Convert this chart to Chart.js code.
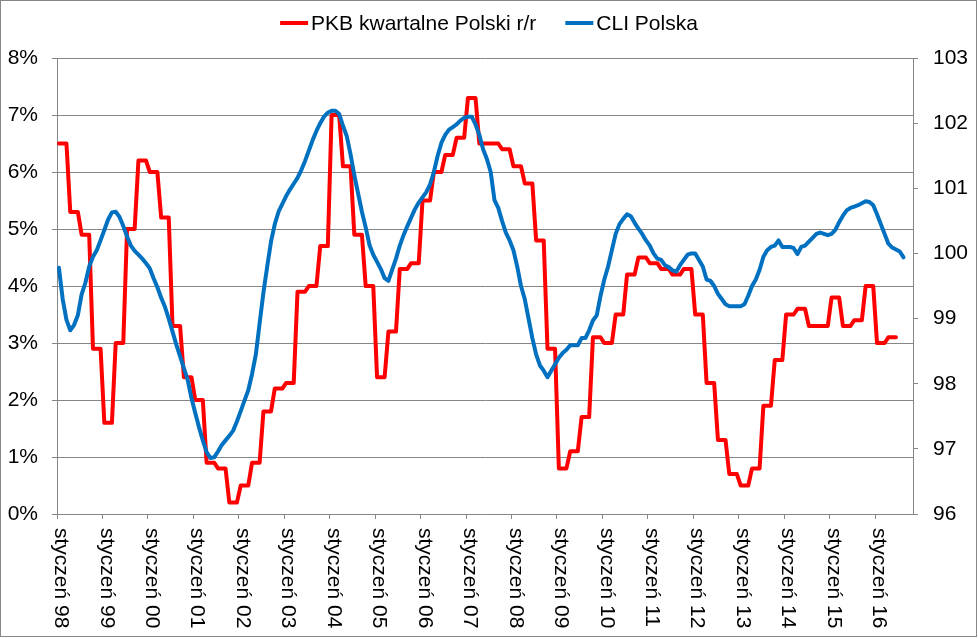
<!DOCTYPE html>
<html>
<head>
<meta charset="utf-8">
<script src="https://cdn.jsdelivr.net/npm/chart.js@4.4.1/dist/chart.umd.min.js"></script>
<style>
  html, body { margin: 0; padding: 0; background: #fff; }
  #wrap { width: 978px; height: 639px; }
</style>
</head>
<body>
<div id="wrap"><canvas id="chart" width="978" height="639"></canvas></div>
<script>
// dane
const monthNames = ['styczeń', 'luty', 'marzec', 'kwiecień', 'maj', 'czerwiec',
    'lipiec', 'sierpień', 'wrzesień', 'październik', 'listopad', 'grudzień'];
const years = ['98', '99', '00', '01', '02', '03', '04', '05', '06', '07',
    '08', '09', '10', '11', '12', '13', '14', '15', '16'];
const monthCount = 226; // styczeń 98 .. październik 16

// PKB r/r (%), kwartalnie 1998 Q1 .. 2016 Q2
const gdpQuarterly = [
    6.5, 5.3, 4.9, 2.9,
    1.6, 3.0, 5.0, 6.2,
    6.0, 5.2, 3.3, 2.4,
    2.0, 0.9, 0.8, 0.2,
    0.5, 0.9, 1.8, 2.2,
    2.3, 3.9, 4.0, 4.7,
    7.0, 6.1, 4.9, 4.0,
    2.4, 3.2, 4.3, 4.4,
    5.5, 6.0, 6.3, 6.6,
    7.3, 6.5, 6.5, 6.4,
    6.1, 5.8, 4.8, 2.9,
    0.8, 1.1, 1.7, 3.1,
    3.0, 3.5, 4.2, 4.5,
    4.4, 4.3, 4.2, 4.3,
    3.5, 2.3, 1.3, 0.7,
    0.5, 0.8, 1.9, 2.7,
    3.5, 3.6, 3.3, 3.3,
    3.8, 3.3, 3.4, 4.0,
    3.0, 3.1
];

// CLI Polska, miesięcznie 1998-01 .. 2016-08
const cliMonthly = [
    99.78, 99.3, 98.98, 98.82, 98.9, 99.05, 99.37, 99.55, 99.8, 99.95, 100.05, 100.2,
    100.36, 100.52, 100.63, 100.64, 100.56, 100.42, 100.26, 100.12, 100.04, 99.98, 99.92, 99.85,
    99.77, 99.62, 99.48, 99.32, 99.18, 99.0, 98.8, 98.6, 98.42, 98.24, 98.06, 97.78,
    97.55, 97.33, 97.13, 96.95, 96.86, 96.87, 96.96, 97.06, 97.13, 97.2, 97.28, 97.42,
    97.58, 97.74, 97.9, 98.15, 98.45, 98.93, 99.4, 99.8, 100.18, 100.45, 100.64, 100.76,
    100.88, 100.98, 101.07, 101.16, 101.28, 101.42, 101.58, 101.74, 101.88, 102.0, 102.1, 102.16,
    102.19, 102.19, 102.14, 101.96, 101.8, 101.52, 101.2, 100.92, 100.64, 100.4, 100.13, 99.98,
    99.87, 99.76, 99.62, 99.58, 99.75, 99.92, 100.12, 100.28, 100.42, 100.55, 100.68, 100.78,
    100.86, 100.94, 101.06, 101.25, 101.5, 101.7, 101.82, 101.9, 101.94, 101.98, 102.04, 102.08,
    102.1, 102.1, 101.98, 101.82, 101.6, 101.45, 101.25, 100.82, 100.7, 100.5, 100.32, 100.2,
    100.05, 99.8, 99.5, 99.3, 99.0, 98.7, 98.45, 98.28, 98.2, 98.1, 98.2, 98.3,
    98.4, 98.47, 98.52, 98.59, 98.59, 98.59, 98.7, 98.7, 98.82, 98.97, 99.05, 99.35,
    99.6, 99.8, 100.05, 100.3, 100.45, 100.53, 100.6, 100.57, 100.47, 100.38, 100.3, 100.2,
    100.12, 100.0, 99.92, 99.9, 99.82, 99.79, 99.74, 99.72, 99.82, 99.9, 99.98, 100.0,
    100.0, 99.9, 99.8, 99.6, 99.58, 99.5, 99.38, 99.3, 99.22, 99.19, 99.19, 99.19,
    99.19, 99.22, 99.35, 99.5, 99.6, 99.75, 99.95, 100.05, 100.1, 100.12, 100.2, 100.1,
    100.1, 100.1, 100.08, 99.99, 100.1, 100.12, 100.18, 100.24, 100.3, 100.32, 100.3, 100.28,
    100.3, 100.36, 100.48, 100.58, 100.66, 100.7, 100.72, 100.74, 100.77, 100.8, 100.79, 100.74,
    100.6, 100.45, 100.3, 100.15, 100.09, 100.06, 100.03, 99.94
];

const leftTicks = [0, 1, 2, 3, 4, 5, 6, 7, 8];      // %
const rightTicks = [96, 97, 98, 99, 100, 101, 102, 103];

// etykiety miesięcy
const labels = [];
years.forEach(y => monthNames.forEach(m => labels.push(m + ' ' + y)));
labels.length = monthCount;

// wartość kwartalna obowiązuje przez trzy miesiące kwartału
const gdpMonthly = gdpQuarterly.flatMap(v => [v, v, v]);
while (gdpMonthly.length < monthCount) gdpMonthly.push(null);
const cliData = cliMonthly.slice();
while (cliData.length < monthCount) cliData.push(null);

const FONT = '"Liberation Sans", Arial, sans-serif';
const GRID = '#868686';
const legendItems = [
    { text: 'PKB kwartalne Polski r/r', color: '#FF0000' },
    { text: 'CLI Polska', color: '#0070C0' }
];

Chart.defaults.font.family = FONT;
Chart.defaults.font.size = 21;
Chart.defaults.color = '#000';

// legenda, podpisy osi X (obrócone w dół) i ramka wykresu
const decorPlugin = {
    id: 'decor',
    afterDraw(chart) {
        const ctx = chart.ctx;
        const xs = chart.scales.x;
        ctx.save();
        ctx.font = '21px ' + FONT;
        ctx.fillStyle = '#000';

        // podpisy osi X
        chart.data.labels.forEach((label, i) => {
            if (i % 12 !== 0) return;
            const x = xs.getPixelForValue(i) + 2;
            ctx.save();
            ctx.translate(x, 528);
            ctx.rotate(Math.PI / 2);
            ctx.textAlign = 'left';
            ctx.textBaseline = 'middle';
            ctx.fillText(label, 0, 0);
            ctx.restore();
        });

        // legenda
        const lineLen = 28, textGap = 3, itemGap = 29, cy = 23;
        const widths = legendItems.map(it => lineLen + textGap + ctx.measureText(it.text).width);
        const total = widths.reduce((a, b) => a + b, 0) + itemGap * (legendItems.length - 1);
        let x = chart.width / 2 - total / 2;
        legendItems.forEach((it, k) => {
            ctx.strokeStyle = it.color;
            ctx.lineWidth = 4;
            ctx.beginPath();
            ctx.moveTo(x, cy);
            ctx.lineTo(x + lineLen, cy);
            ctx.stroke();
            ctx.textAlign = 'left';
            ctx.textBaseline = 'middle';
            ctx.fillText(it.text, x + lineLen + textGap, cy + 1);
            x += widths[k] + itemGap;
        });

        // ramka
        ctx.strokeStyle = GRID;
        ctx.lineWidth = 1;
        ctx.strokeRect(0.5, 0.5, 976, 636);
        ctx.restore();
    }
};

new Chart(document.getElementById('chart'), {
    type: 'line',
    data: {
        labels: labels,
        datasets: [{
            label: legendItems[0].text,
            data: gdpMonthly,
            yAxisID: 'y',
            borderColor: legendItems[0].color,
            borderWidth: 4,
            borderJoinStyle: 'round',
            borderCapStyle: 'round',
            pointRadius: 0,
            tension: 0,
            order: 2
        }, {
            label: legendItems[1].text,
            data: cliData,
            yAxisID: 'y1',
            borderColor: legendItems[1].color,
            borderWidth: 4,
            borderJoinStyle: 'round',
            borderCapStyle: 'round',
            pointRadius: 0,
            tension: 0,
            order: 1
        }]
    },
    options: {
        responsive: false,
        animation: false,
        events: [],
        layout: { padding: { top: 58, left: 0, right: 0, bottom: 0 } },
        plugins: {
            legend: { display: false },
            tooltip: { enabled: false }
        },
        scales: {
            x: {
                type: 'category',
                offset: true,
                ticks: { display: false, autoSkip: false },
                grid: {
                    offset: true,
                    drawOnChartArea: false,
                    drawTicks: true,
                    tickLength: 5,
                    color: ctx => (ctx.index % 12 === 0 && ctx.index < monthCount) ? GRID : 'rgba(0,0,0,0)'
                },
                border: { display: true, color: GRID, width: 1 },
                afterFit(scale) { scale.height = 125; }
            },
            y: {
                position: 'left',
                min: leftTicks[0],
                max: leftTicks[leftTicks.length - 1],
                afterBuildTicks(scale) { scale.ticks = leftTicks.map(v => ({ value: v })); },
                ticks: {
                    padding: 14,
                    callback: v => v + '%'
                },
                grid: { color: GRID, tickLength: 5, lineWidth: 1 },
                border: { display: true, color: GRID, width: 1 },
                afterFit(scale) { scale.width = 57; }
            },
            y1: {
                position: 'right',
                min: rightTicks[0],
                max: rightTicks[rightTicks.length - 1],
                afterBuildTicks(scale) { scale.ticks = rightTicks.map(v => ({ value: v })); },
                ticks: { padding: 15 },
                grid: { drawOnChartArea: false, color: GRID, tickLength: 5 },
                border: { display: true, color: GRID, width: 1 },
                afterFit(scale) { scale.width = 65; }
            }
        }
    },
    plugins: [decorPlugin]
});
</script>
</body>
</html>
